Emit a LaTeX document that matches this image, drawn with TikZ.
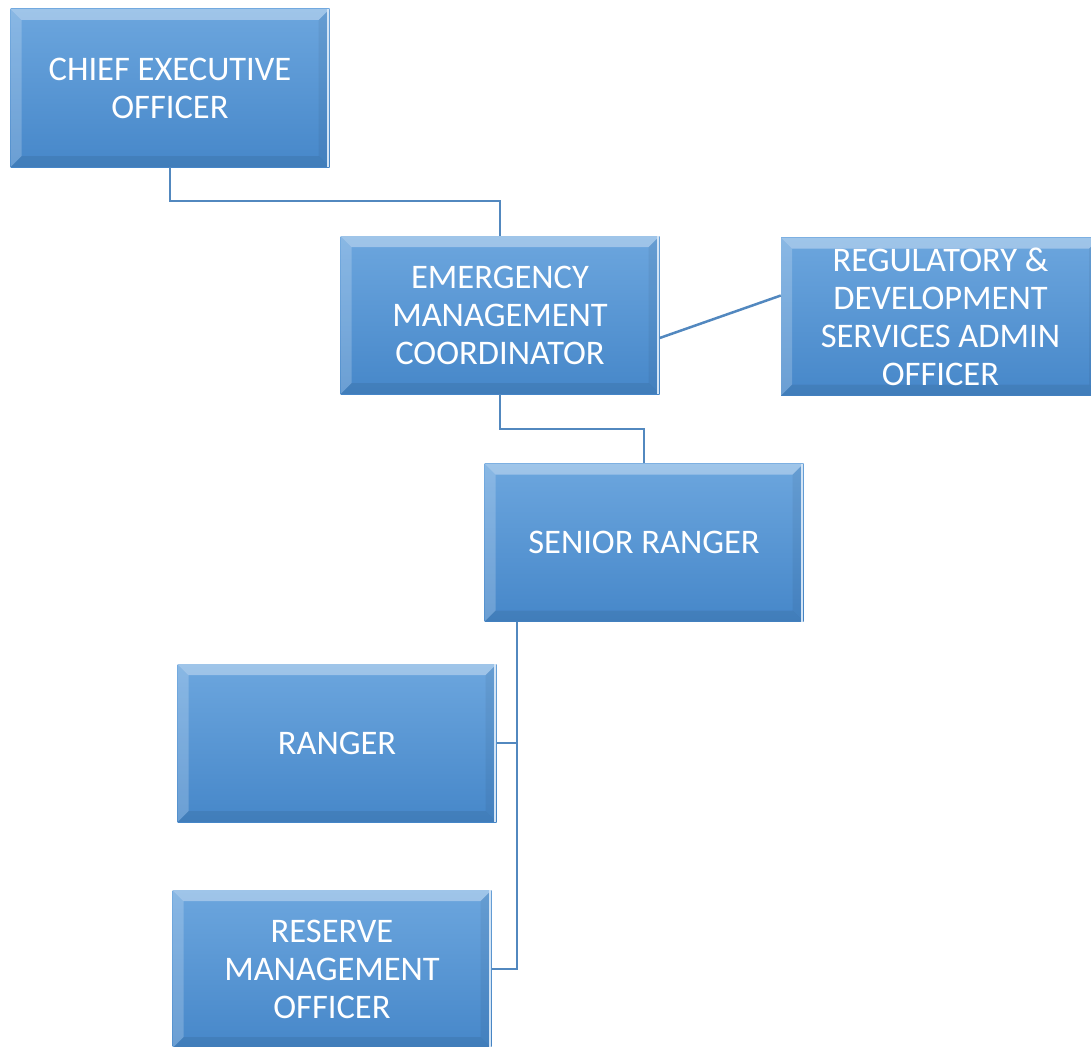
\documentclass[tikz,border=0pt]{standalone}
\usepackage{fontspec}
\setmainfont{Carlito}
\definecolor{boxtop}{HTML}{6CA6DE}
\definecolor{boxbot}{HTML}{4687C9}
\definecolor{linkblue}{HTML}{5288BF}
\begin{document}
\begin{tikzpicture}[x=1pt,y=-1pt,
  orgbox/.style={rectangle, minimum width=319pt, minimum height=158pt, inner sep=0pt,
    align=center, text=white, font=\fontsize{34.5}{38}\selectfont,
    top color=boxtop, bottom color=boxbot,
    path picture={
      \path (path picture bounding box.north west) coordinate (bnw)
            (path picture bounding box.south east) coordinate (bse);
      % top bevel
      \fill[white, opacity=0.35] (bnw) -- (bnw -| bse) -- ([xshift=-11pt,yshift=-11pt]bnw -| bse)
        -- ([xshift=11pt,yshift=-11pt]bnw) -- cycle;
      % left bevel
      \fill[white, opacity=0.2] (bnw) -- ([xshift=11pt,yshift=-11pt]bnw)
        -- ([xshift=11pt,yshift=11pt]bnw |- bse) -- (bnw |- bse) -- cycle;
      % right bevel
      \fill[black, opacity=0.05] (bnw -| bse) -- ([xshift=-11pt,yshift=-11pt]bnw -| bse)
        -- ([xshift=-11pt,yshift=11pt]bse) -- (bse) -- cycle;
      % bottom bevel
      \fill[black, opacity=0.07] (bnw |- bse) -- ([xshift=11pt,yshift=11pt]bnw |- bse)
        -- ([xshift=-11pt,yshift=11pt]bse) -- (bse) -- cycle;
      % light rim on right edge
      \draw[white!70!boxtop, line width=2pt] ([xshift=-2pt]bnw -| bse) -- ([xshift=-2pt]bse);
    }},
  link/.style={draw=linkblue, line width=2.5pt}]
\useasboundingbox (0,0) rectangle (1091,1046);

\node[orgbox] (ceo) at (170,88) {CHIEF EXECUTIVE\\OFFICER};
\node[orgbox] (emc) at (500,315) {EMERGENCY\\MANAGEMENT\\COORDINATOR};
\node[orgbox] (rds) at (940.5,316.5) {REGULATORY \&\\DEVELOPMENT\\SERVICES ADMIN\\OFFICER};
\node[orgbox] (sr) at (644,542.5) {SENIOR RANGER};
\node[orgbox] (rgr) at (337,743) {RANGER};
\node[orgbox] (rmo) at (332,969) {RESERVE\\MANAGEMENT\\OFFICER};

\coordinate (j1) at (0,201);
\coordinate (j2) at (0,429);
\coordinate (sx) at (517,0);

\draw[link] (ceo.south) -- (ceo.south |- j1) -- (emc.north |- j1) -- (emc.north);
\draw[link] (emc.south) -- (emc.south |- j2) -- (sr.north |- j2) -- (sr.north);
\draw[link] ([yshift=-23pt]emc.east) -- ([yshift=21pt]rds.west);
\draw[link] (sx |- sr.south) -- (sx |- rmo.east) -- (rmo.east);
\draw[link] (sx |- rgr.east) -- (rgr.east);
\end{tikzpicture}
\end{document}
